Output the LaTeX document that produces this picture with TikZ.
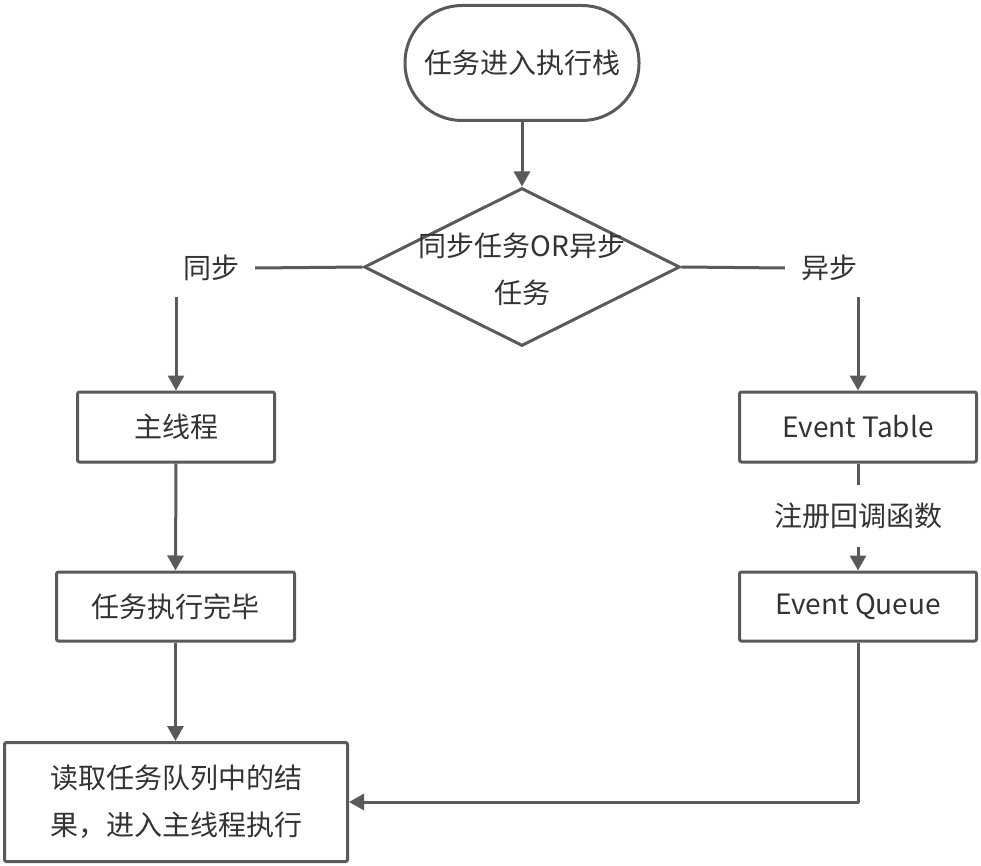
\documentclass[tikz,border=0pt]{standalone}
\usepackage{fontspec}
\setmainfont{Noto Sans CJK SC}
\usetikzlibrary{shapes.geometric,arrows.meta}
\definecolor{ln}{HTML}{5A5A5A}
\definecolor{tx}{HTML}{333333}
\tikzset{
  base/.style={line width=3pt, draw=ln, text=tx, font=\fontsize{28}{47}\selectfont, align=center},
  boxnode/.style={base, rectangle, rounded corners=2pt, inner sep=0pt},
  termnode/.style={base, rectangle, rounded corners=57pt, inner sep=0pt},
  dianode/.style={base, diamond, inner sep=0pt},
  lbl/.style={text=tx, font=\fontsize{28}{47}\selectfont, align=center, inner sep=16pt},
  conn/.style={line width=3pt, draw=ln, line join=round},
  arr/.style={conn, -{Triangle[width=16pt,length=15pt]}},
}
\begin{document}
\begin{tikzpicture}[x=1pt,y=-1pt]
\useasboundingbox (0,0) rectangle (981,866);
\fill[white] (0,0) rectangle (981,866);
\node[termnode, minimum width=234pt, minimum height=115pt] (start) at (522,63) {任务进入执行栈};
\node[dianode, minimum width=316pt, minimum height=158pt] (dia) at (522,267) {};
\node[lbl, inner sep=0pt] (diatext) at (522,269) {同步任务OR异步\\任务};
\node[lbl] (sync) at (211,268) {同步};
\node[lbl] (async) at (829,268) {异步};
\node[boxnode, minimum width=197pt, minimum height=70pt] (main) at (176,427) {主线程};
\node[boxnode, minimum width=238pt, minimum height=69pt] (done) at (175.5,606.5) {任务执行完毕};
\node[boxnode, minimum width=237pt, minimum height=70pt] (et) at (858,427) {Event Table};
\node[lbl, inner sep=18pt] (reg) at (858,516) {注册回调函数};
\node[boxnode, minimum width=237pt, minimum height=69pt] (eq) at (858,606.5) {Event Queue};
\node[boxnode, minimum width=343pt, minimum height=119pt, align=left] (res) at (176,802) {读取任务队列中的结\\果，进入主线程执行};
\draw[arr] (start.south) -- (dia.north);
\draw[conn] (dia.west) -- (sync.east);
\draw[conn] (dia.east) -- (async.west);
\draw[arr] (sync.south -| main.north) -- (main.north);
\draw[arr] (async.south -| et.north) -- (et.north);
\draw[conn] (et.south) -- (reg.north);
\draw[arr] (reg.south) -- (eq.north);
\draw[arr] (main.south) -- (done.north);
\draw[arr] (done.south) -- (res.north -| done.south);
\draw[arr] (eq.south) |- (res.east);
\end{tikzpicture}
\end{document}
